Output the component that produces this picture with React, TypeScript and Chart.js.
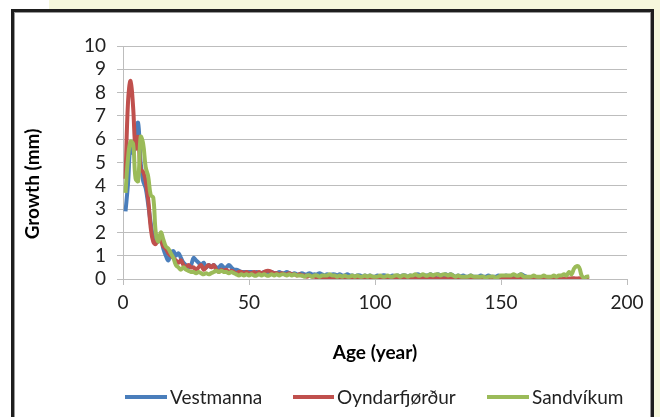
import React, { useEffect, useRef } from "react";
import { Chart, registerables } from "chart.js";

Chart.register(...registerables);

// Growth (mm) per year of age, starting at age 1
const vestmanna = [
  2.9, 4.1, 5.8, 5.4, 5.9, 6.7, 5.0, 4.2, 3.9, 3.2,
  2.4, 1.8, 1.7, 1.6, 1.7, 1.3, 1.0, 0.8, 1.1, 1.2,
  1.0, 1.1, 0.9, 0.7, 0.6, 0.5, 0.6, 0.9, 0.8, 0.7,
  0.6, 0.7, 0.5, 0.6, 0.5, 0.6, 0.5, 0.5, 0.6, 0.5,
  0.5, 0.6, 0.5, 0.4, 0.4, 0.35, 0.3, 0.3, 0.3, 0.3,
  0.3, 0.25, 0.3, 0.25, 0.25, 0.3, 0.25, 0.25, 0.3, 0.25,
  0.25, 0.3, 0.25, 0.25, 0.3, 0.25, 0.2, 0.25, 0.2, 0.2,
  0.25, 0.2, 0.2, 0.25, 0.2, 0.2, 0.2, 0.25, 0.2, 0.15,
  0.2, 0.15, 0.2, 0.2, 0.15, 0.2, 0.15, 0.15, 0.2, 0.15,
  0.15, 0.1, 0.15, 0.15, 0.1, 0.15, 0.1, 0.15, 0.1, 0.1,
  0.15, 0.1, 0.15, 0.15, 0.1, 0.1, 0.15, 0.1, 0.15, 0.1,
  0.15, 0.15, 0.1, 0.15, 0.1, 0.15, 0.2, 0.15, 0.1, 0.15,
  0.15, 0.2, 0.15, 0.15, 0.2, 0.15, 0.15, 0.2, 0.15, 0.2,
  0.15, 0.1, 0.15, 0.1, 0.15, 0.1, 0.1, 0.15, 0.1, 0.1,
  0.1, 0.15, 0.1, 0.1, 0.15, 0.1, 0.1, 0.1, 0.15, 0.1,
  0.1, 0.15, 0.1, 0.1, 0.15, 0.1, 0.15, 0.2, 0.15, 0.1,
];

const oyndarfjordur = [
  4.3, 7.6, 8.5, 7.4, 5.6, 6.1, 4.7, 4.6, 4.2, 3.4,
  2.2, 1.6, 1.5, 1.8, 1.7, 1.4, 1.3, 1.1, 1.0, 0.9,
  0.8, 0.7, 0.8, 0.6, 0.5, 0.6, 0.5, 0.5, 0.4, 0.5,
  0.6, 0.4, 0.5, 0.6, 0.5, 0.6, 0.4, 0.3, 0.4, 0.35,
  0.4, 0.3, 0.35, 0.3, 0.25, 0.3, 0.3, 0.25, 0.3, 0.25,
  0.25, 0.3, 0.25, 0.3, 0.25, 0.3, 0.35, 0.35, 0.3, 0.25,
  0.25, 0.2, 0.25, 0.2, 0.2, 0.25, 0.2, 0.2, 0.15, 0.2,
  0.15, 0.15, 0.1, 0.15, 0.1, 0.1, 0.05, 0.03, 0.02, 0.02,
  0.03, 0.02, 0.03, 0.03, 0.02, 0.03, 0.02, 0.03, 0.03, 0.02,
  0.03, 0.02, 0.03, 0.03, 0.02, 0.03, 0.02, 0.03, 0.03, 0.02,
  0.03, 0.02, 0.03, 0.03, 0.02, 0.03, 0.02, 0.03, 0.03, 0.02,
  0.03, 0.02, 0.03, 0.03, 0.02, 0.03, 0.02, 0.03, 0.03, 0.02,
  0.03, 0.02, 0.03, 0.03, 0.02, 0.03, 0.02, 0.03, 0.03, 0.02,
  0.03, 0.02, 0.03, 0.03, 0.02, 0.03, 0.02, 0.03, 0.03, 0.02,
  0.03, 0.02, 0.03, 0.03, 0.02, 0.03, 0.02, 0.03, 0.03, 0.02,
  0.03, 0.02, 0.03, 0.03, 0.02, 0.03, 0.02, 0.03, 0.03, 0.02,
  0.03, 0.02, 0.03, 0.03, 0.02, 0.03, 0.02, 0.03, 0.03, 0.02,
  0.03, 0.02, 0.03, 0.03, 0.02, 0.03, 0.02, 0.03, 0.03, 0.02,
  0.03, 0.02, 0.03, 0.03, 0.02,
];

const sandvikum = [
  3.7, 5.2, 5.9, 5.8, 4.3, 4.2, 6.1, 5.8, 4.8, 4.4,
  3.6, 3.5, 2.0, 1.6, 2.0, 1.7, 1.4, 1.3, 1.1, 0.9,
  0.6, 0.5, 0.4, 0.5, 0.4, 0.35, 0.3, 0.3, 0.25, 0.3,
  0.25, 0.2, 0.25, 0.2, 0.25, 0.3, 0.35, 0.3, 0.35, 0.3,
  0.3, 0.25, 0.3, 0.25, 0.2, 0.15, 0.2, 0.15, 0.2, 0.15,
  0.2, 0.15, 0.15, 0.2, 0.15, 0.2, 0.15, 0.15, 0.2, 0.15,
  0.2, 0.15, 0.2, 0.2, 0.15, 0.2, 0.15, 0.2, 0.15, 0.15,
  0.15, 0.1, 0.15, 0.15, 0.1, 0.15, 0.15, 0.1, 0.15, 0.15,
  0.15, 0.2, 0.15, 0.15, 0.1, 0.15, 0.1, 0.15, 0.1, 0.1,
  0.15, 0.1, 0.15, 0.1, 0.1, 0.15, 0.1, 0.15, 0.1, 0.1,
  0.1, 0.15, 0.1, 0.1, 0.15, 0.1, 0.1, 0.15, 0.15, 0.1,
  0.15, 0.15, 0.1, 0.15, 0.15, 0.2, 0.15, 0.15, 0.2, 0.15,
  0.15, 0.2, 0.15, 0.2, 0.2, 0.15, 0.2, 0.2, 0.15, 0.2,
  0.15, 0.1, 0.15, 0.1, 0.1, 0.1, 0.1, 0.15, 0.1, 0.1,
  0.1, 0.1, 0.1, 0.05, 0.1, 0.1, 0.1, 0.05, 0.1, 0.15,
  0.15, 0.15, 0.15, 0.15, 0.2, 0.15, 0.15, 0.2, 0.1, 0.1,
  0.1, 0.1, 0.15, 0.1, 0.1, 0.1, 0.15, 0.1, 0.1, 0.1,
  0.15, 0.1, 0.15, 0.15, 0.2, 0.15, 0.3, 0.2, 0.45, 0.55,
  0.5, 0.15, 0.05, 0.1, 0.1,
];

const firstAge = 1;
const seriesNames = ["Vestmanna", "Oyndarfjørður", "Sandvíkum"];
const seriesColors = ["#4a7ebb", "#c0504d", "#9bbb59"];
const xTitle = "Age (year)";
const yTitle = "Growth (mm)";
const xMin = 0;
const xMax = 200;
const xStep = 50;
const yMin = 0;
const yMax = 10;
const yStep = 1;

const FONT = "Lato, 'Open Sans', sans-serif";
const GRID = "#bdbdbd";
const TEXT = "#222";
const FS = 19;

const toPoints = (vals: number[]) => vals.map((v, i) => ({ x: i + firstAge, y: v }));

const yTitlePlugin = {
  id: "yTitleDraw",
  afterDraw(chart: any) {
    const ctx = chart.ctx;
    ctx.save();
    ctx.translate(33, 184);
    ctx.rotate(-Math.PI / 2);
    ctx.font = `bold ${FS}px ${FONT}`;
    ctx.fillStyle = "#000";
    ctx.textAlign = "center";
    ctx.textBaseline = "middle";
    ctx.fillText(yTitle, 0, 0);
    ctx.restore();
  },
};

export default function App() {
  const canvasRef = useRef<HTMLCanvasElement | null>(null);

  useEffect(() => {
    const canvas = canvasRef.current;
    if (!canvas) return;
    const allSeries = [vestmanna, oyndarfjordur, sandvikum];
    const drawOrder = [2, 1, 0];
    const chart = new Chart(canvas, {
      type: "line",
      data: {
        datasets: allSeries.map((vals, i) => ({
          label: seriesNames[i],
          data: toPoints(vals),
          borderColor: seriesColors[i],
          backgroundColor: seriesColors[i],
          borderWidth: 4,
          pointRadius: 0,
          tension: 0.4,
          fill: false,
          order: drawOrder[i],
        })),
      },
      options: {
        responsive: false,
        animation: false,
        devicePixelRatio: 1,
        layout: { padding: { top: 46, right: 33, bottom: 0, left: 0 } },
        plugins: {
          legend: { display: false },
          tooltip: { enabled: false },
        },
        scales: {
          x: {
            type: "linear",
            min: xMin,
            max: xMax,
            ticks: {
              stepSize: xStep,
              padding: 6,
              color: TEXT,
              font: { family: FONT, size: FS },
              maxRotation: 0,
              autoSkip: false,
            },
            grid: { drawOnChartArea: false, drawTicks: true, tickLength: 6, color: GRID },
            border: { color: GRID },
            title: {
              display: true,
              text: xTitle,
              color: "#000",
              font: { family: FONT, size: FS, weight: "bold" },
              padding: { top: 0, bottom: 53 },
            },
            afterFit: (scale: any) => {
              scale.height = 138;
            },
          },
          y: {
            min: yMin,
            max: yMax,
            ticks: {
              stepSize: yStep,
              padding: 11,
              color: TEXT,
              font: { family: FONT, size: FS },
              autoSkip: false,
            },
            grid: { color: GRID, tickLength: 6, lineWidth: 1 },
            border: { color: GRID },
            afterFit: (scale: any) => {
              scale.width = 123;
            },
          },
        },
      },
      plugins: [yTitlePlugin],
    } as any);
    return () => chart.destroy();
  }, []);

  const legendItems = [
    { left: 125, textLeft: 170 },
    { left: 293, textLeft: 337 },
    { left: 487, textLeft: 532 },
  ];

  return (
    <div
      style={{
        position: "fixed",
        left: 0,
        top: 0,
        width: 660,
        height: 417,
        background: "#fff",
        overflow: "hidden",
        fontFamily: FONT,
      }}
    >
      <div style={{ position: "absolute", left: 49, top: 0, width: 611, height: 12, background: "#f5f7dc" }} />
      <div style={{ position: "absolute", left: 652, top: 0, width: 8, height: 417, background: "#f5f7dc" }} />
      <div
        style={{
          position: "absolute",
          left: 11,
          top: 9,
          width: 643,
          height: 440,
          boxSizing: "border-box",
          border: "3px solid #1e1e1e",
          background: "#fff",
          boxShadow: "inset 1px 1px 0 #9a9a9a, inset -1px 0 0 #9a9a9a",
        }}
      />
      <canvas
        ref={canvasRef}
        width={660}
        height={417}
        style={{ position: "absolute", left: 0, top: 0, width: 660, height: 417 }}
      />
      {legendItems.map((it, i) => (
        <React.Fragment key={seriesNames[i]}>
          <div
            style={{
              position: "absolute",
              left: it.left,
              top: 395,
              width: it.textLeft - it.left - 3,
              height: 4,
              background: seriesColors[i],
            }}
          />
          <div
            style={{
              position: "absolute",
              left: it.textLeft,
              top: 385,
              height: 24,
              lineHeight: "24px",
              fontSize: FS,
              color: TEXT,
              whiteSpace: "nowrap",
            }}
          >
            {seriesNames[i]}
          </div>
        </React.Fragment>
      ))}
    </div>
  );
}
